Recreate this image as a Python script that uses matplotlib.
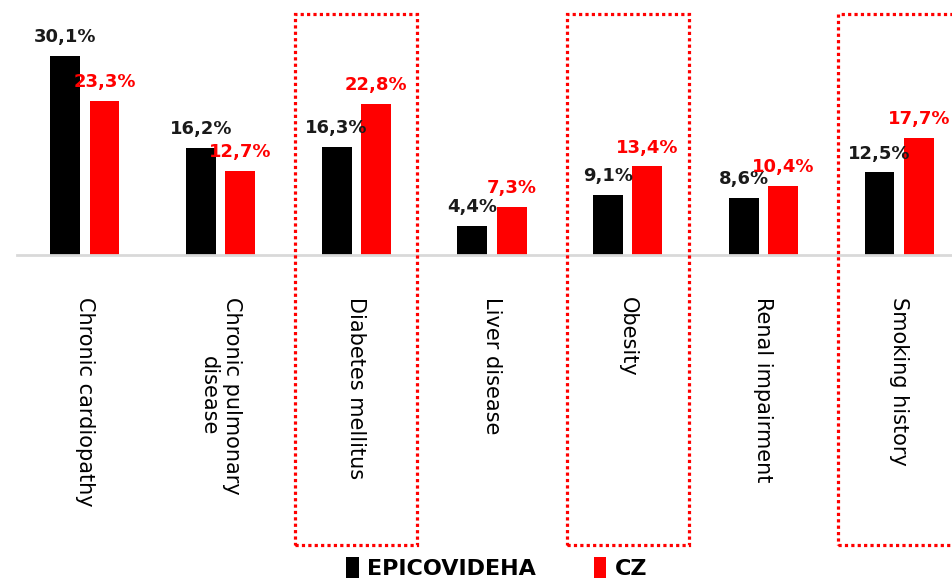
import matplotlib.pyplot as plt
from matplotlib.patches import Rectangle
import matplotlib.transforms as mtransforms
import numpy as np

# Data
categories = ["Chronic cardiopathy", "Chronic pulmonary\ndisease", "Diabetes mellitus",
              "Liver disease", "Obesity", "Renal impairment", "Smoking history"]
epicovideha = [30.1, 16.2, 16.3, 4.4, 9.1, 8.6, 12.5]
cz = [23.3, 12.7, 22.8, 7.3, 13.4, 10.4, 17.7]
highlighted = [2, 4, 6]

RED = "#ff0000"

fig = plt.figure(figsize=(9.53, 5.81), dpi=100)
W, H = 953, 581
# axes placed in pixel terms of the reference
ax = fig.add_axes([17 / W, (H - 255) / H, 950 / W, 225 / H])

x = np.arange(len(categories))
bw = 0.22
off = 0.145
ax.bar(x - off, epicovideha, bw, color="black", label="EPICOVIDEHA")
ax.bar(x + off, cz, bw, color=RED, label="CZ")

# value labels
for i in range(len(categories)):
    ax.annotate(f"{epicovideha[i]:.1f}%".replace(".", ","), (x[i] - off, epicovideha[i]),
                xytext=(0, 7), textcoords="offset points", ha="center", va="bottom",
                fontsize=13, fontweight="bold", color="#1a1a1a")
    ax.annotate(f"{cz[i]:.1f}%".replace(".", ","), (x[i] + off, cz[i]),
                xytext=(0, 7), textcoords="offset points", ha="center", va="bottom",
                fontsize=13, fontweight="bold", color=RED)

ax.set_xlim(-0.5, len(categories) - 0.5)
ax.set_ylim(0, 34)
ax.set_yticks([])
for s in ["top", "right", "left"]:
    ax.spines[s].set_visible(False)
ax.spines["bottom"].set_color("#d9d9d9")
ax.spines["bottom"].set_linewidth(2)

ax.set_xticks(x)
ax.set_xticklabels(categories, rotation=270, va="top", ha="center",
                   multialignment="center", fontsize=15)
ax.tick_params(axis="x", length=0, pad=30)

# dotted boxes around highlighted categories
trans = mtransforms.blended_transform_factory(ax.transData, fig.transFigure)
for i in highlighted:
    rect = Rectangle((x[i] - 0.45, 0.062), 0.9, 0.914, transform=trans,
                     fill=False, edgecolor=RED, linewidth=2.3,
                     linestyle=(0, (1, 1)), clip_on=False)
    fig.add_artist(rect)

fig.legend(loc="center", bbox_to_anchor=(497 / W, 1 - 568 / H), ncol=2,
           frameon=False, handlelength=0.55, handleheight=1.1, handletextpad=0.4,
           columnspacing=2.6, prop={"size": 16, "weight": "bold"})

fig.savefig("out.png", dpi=100)
